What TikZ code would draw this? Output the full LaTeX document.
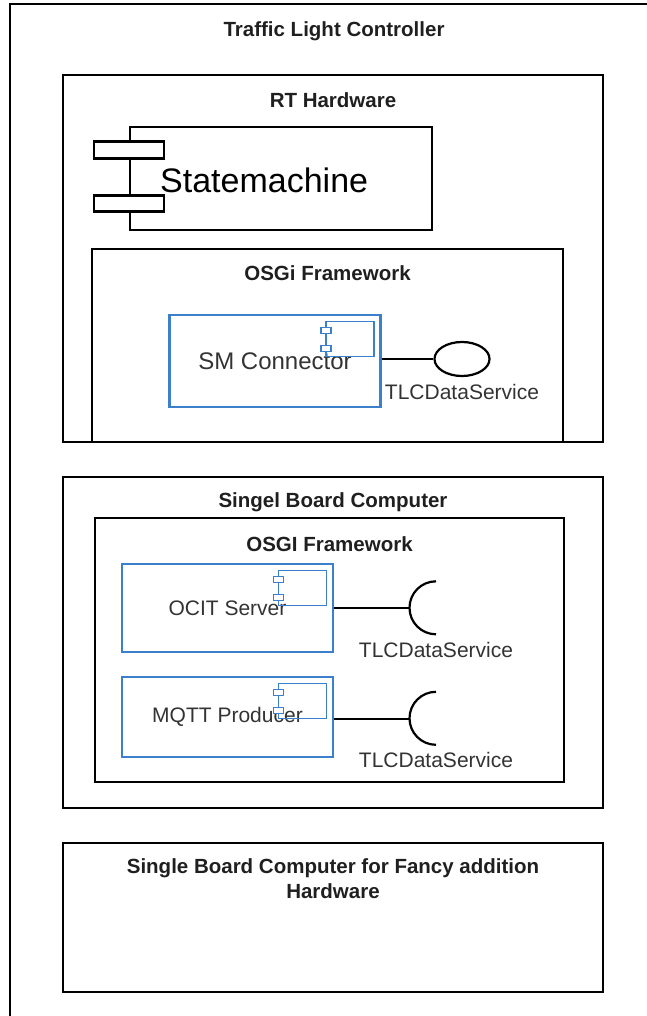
\documentclass[tikz,border=0pt]{standalone}
\usepackage{fontspec}
\setmainfont{Liberation Sans}
\usetikzlibrary{positioning,shapes.geometric}
\definecolor{compblue}{RGB}{60,128,204}
\begin{document}
\begin{tikzpicture}[x=1pt,y=-1pt,
    b/.style={draw,line width=2.5pt,inner sep=0pt},
    t/.style={font=\bfseries\fontsize{20.5}{25}\selectfont,text=black!88,inner sep=0pt,anchor=base},
    c/.style={draw=compblue,line width=2.7pt,inner sep=0pt,minimum width=211pt,font=\fontsize{21}{25}\selectfont,text=black!80},
    ic/.style={draw=compblue,line width=1.3pt},
    l/.style={font=\fontsize{21}{25}\selectfont,text=black!80,inner sep=7pt}]
  \useasboundingbox (0,0) rectangle (646,1016);
  % outer box, runs off the page on the right and bottom
  \node[b, minimum width=690pt, minimum height=1066pt] (tlc) at (355,537) {};
  \node[t] (tlct) at (334,37) {Traffic Light Controller};
  % RT hardware
  \node[b, minimum width=540pt, minimum height=367pt] (rt) at (333,258.5) {};
  \node[t] (rtt) at ([yshift=-34pt]rt.north) {RT Hardware};
  \node[b, minimum width=302pt, minimum height=103pt] (sm) at (281,178.5) {};
  \draw[b,fill=white] ([shift={(-35,16)}]sm.north west) rectangle ([shift={(35,33)}]sm.north west);
  \draw[b,fill=white] ([shift={(-35,70)}]sm.north west) rectangle ([shift={(35,86)}]sm.north west);
  \node[font=\fontsize{34}{40}\selectfont, anchor=base west, inner sep=0pt] (smt) at (160,193) {Statemachine};
  \node[b, minimum width=471pt, minimum height=193pt] (osgi1) at (327.5,345.5) {};
  \node[t] (osgi1t) at ([yshift=-33pt]osgi1.north) {OSGi Framework};
  \node[c, minimum height=92pt, font=\fontsize{24}{28}\selectfont] (smc) at (275,361) {SM Connector};
  \node[draw, ellipse, line width=2.2pt, minimum width=55pt, minimum height=34pt, inner sep=0pt] (if1) at (462,359) {};
  \node[l, below=0pt of if1] (if1t) {TLCDataService};
  \draw[line width=2pt] (if1.west -| smc.east) -- (if1.west);
  % single board computer
  \node[b, minimum width=540pt, minimum height=331pt] (sbc) at (333,642.5) {};
  \node[t] (sbct) at ([yshift=-32pt]sbc.north) {Singel Board Computer};
  \node[b, minimum width=469pt, minimum height=264pt] (osgi2) at (329.5,650) {};
  \node[t] (osgi2t) at ([yshift=-35pt]osgi2.north) {OSGI Framework};
  \node[c, minimum height=88pt] (ocit) at (227.5,608) {OCIT Server};
  \node[c, minimum height=80pt] (mqtt) at (227.5,717) {MQTT Producer};
  \node[minimum width=53pt, minimum height=53pt, inner sep=0pt] (sk1) at (436,608) {};
  \node[minimum width=53pt, minimum height=53pt, inner sep=0pt] (sk2) at (436,718.5) {};
  \draw[line width=2.2pt] (sk1.north) arc[start angle=90, end angle=270, radius=26.5pt];
  \draw[line width=2.2pt] (sk2.north) arc[start angle=90, end angle=270, radius=26.5pt];
  \draw[line width=2pt] (ocit.east) -- (sk1.west);
  \draw[line width=2pt] (sk2.west -| mqtt.east) -- (sk2.west);
  \node[l, below=0pt of sk1] (sk1t) {TLCDataService};
  \node[l, below=0pt of sk2] (sk2t) {TLCDataService};
  % component icons
  \foreach \n in {smc,ocit,mqtt}{
    \draw[ic] ([shift={(-56,8)}]\n.north east) rectangle ([shift={(-8,43)}]\n.north east);
    \draw[ic,fill=white] ([shift={(-61,14)}]\n.north east) rectangle ([shift={(-51,20)}]\n.north east);
    \draw[ic,fill=white] ([shift={(-61,32)}]\n.north east) rectangle ([shift={(-51,38)}]\n.north east);
  }
  % fancy addition hardware
  \node[b, minimum width=540pt, minimum height=149pt] (fancy) at (333,917.5) {};
  \node[t, anchor=north, align=center] (fancyt) at ([yshift=-17pt]fancy.north) {Single Board Computer for Fancy addition\\Hardware};
\end{tikzpicture}
\end{document}
